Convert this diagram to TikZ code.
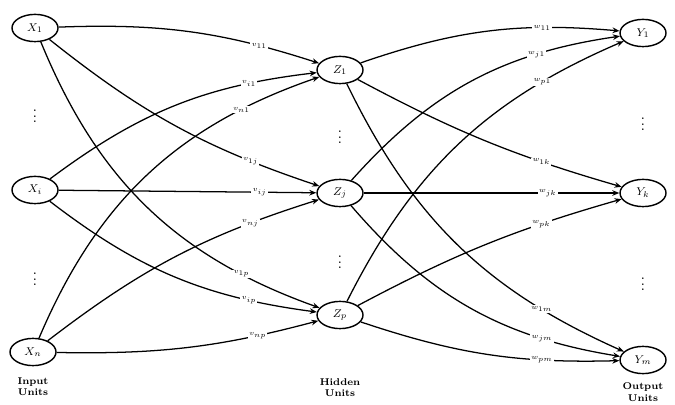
\documentclass[tikz,border=0pt]{standalone}
\usetikzlibrary{shapes.geometric,arrows.meta}
\tikzset{
    unit/.style={ellipse, draw, line width=1pt, minimum width=1.15cm, minimum height=0.68cm, inner sep=0pt, font=\footnotesize},
    wt/.style={fill=white, inner sep=0.8pt, font=\tiny, pos=0.75},
    link/.style={line width=0.9pt, -{Stealth[length=5pt,width=4pt]}},
    gap/.style={font=\scriptsize\bfseries, inner sep=0pt},
    layername/.style={font=\scriptsize\bfseries, align=center, inner sep=0pt}
}
\begin{document}
\begin{tikzpicture}[x=0.025cm, y=-0.025cm]
    \useasboundingbox (0, 0) rectangle (675, 405);
        % input layer
        \node[unit] (x1) at (35, 28){$X_1$};
        \node[unit] (xi) at (35, 190){$X_i$};
        \node[unit] (xn) at (33, 352){$X_n$};
            \node[gap] (dx1) at (35, 112){$\vdots$};
            \node[gap] (dx2) at (35, 275){$\vdots$};
            \node[layername] (lx) at (33, 387){Input\\Units};
        % hidden layer
        \node[unit] (z1) at (340, 70){$Z_1$};
        \node[unit] (zj) at (340, 193){$Z_j$};
        \node[unit] (zp) at (340, 315){$Z_p$};
            \node[gap] (dz1) at (340, 133){$\vdots$};
            \node[gap] (dz2) at (340, 258){$\vdots$};
            \node[layername] (lz) at (340, 388){Hidden\\Units};
        % output layer
        \node[unit] (y1) at (643, 33){$Y_1$};
        \node[unit] (yk) at (643, 193){$Y_k$};
        \node[unit] (ym) at (643, 360){$Y_m$};
            \node[gap] (dy1) at (643, 120){$\vdots$};
            \node[gap] (dy2) at (643, 280){$\vdots$};
            \node[layername] (ly) at (643, 392){Output\\Units};

        % input to hidden
        \draw[link] (x1) to[bend left=10] node[wt, pos=0.78]{$v_{11}$} (z1);
        \draw[link] (xi) to[bend left=15] node[wt, pos=0.78]{$v_{i1}$} (z1);
        \draw[link] (xn) to[bend left=24] node[wt, pos=0.8]{$v_{n1}$} (z1);
        \draw[link] (x1) to[bend right=10] node[wt, pos=0.78]{$v_{1j}$} (zj);
        \draw[link] (xi) to node[wt, pos=0.78]{$v_{ij}$} (zj);
        \draw[link] (xn) to[bend left=10] node[wt, pos=0.78]{$v_{nj}$} (zj);
        \draw[link] (x1) to[bend right=24] node[wt, pos=0.8]{$v_{1p}$} (zp);
        \draw[link] (xi) to[bend right=15] node[wt, pos=0.78]{$v_{ip}$} (zp);
        \draw[link] (xn) to[bend right=8] node[wt, pos=0.78]{$v_{np}$} (zp);

        % hidden to output
        \draw[link] (z1) to[bend left=12] node[wt, pos=0.72]{$w_{11}$} (y1);
        \draw[link] (zj) to[bend left=20] node[wt, pos=0.74]{$w_{j1}$} (y1);
        \draw[link] (zp) to[bend left=20] node[wt, pos=0.78]{$w_{p1}$} (y1);
        \draw[link] (z1) to[bend right=6] node[wt, pos=0.72]{$w_{1k}$} (yk);
        \draw[link] (zj) to node[wt, pos=0.72]{$w_{jk}$} (yk);
        \draw[link] (zp) to[bend left=6] node[wt, pos=0.72]{$w_{pk}$} (yk);
        \draw[link] (z1) to[bend right=20] node[wt, pos=0.78]{$w_{1m}$} (ym);
        \draw[link] (zj) to[bend right=20] node[wt, pos=0.76]{$w_{jm}$} (ym);
        \draw[link] (zp) to[bend right=10] node[wt, pos=0.72]{$w_{pm}$} (ym);
\end{tikzpicture}
\end{document}
